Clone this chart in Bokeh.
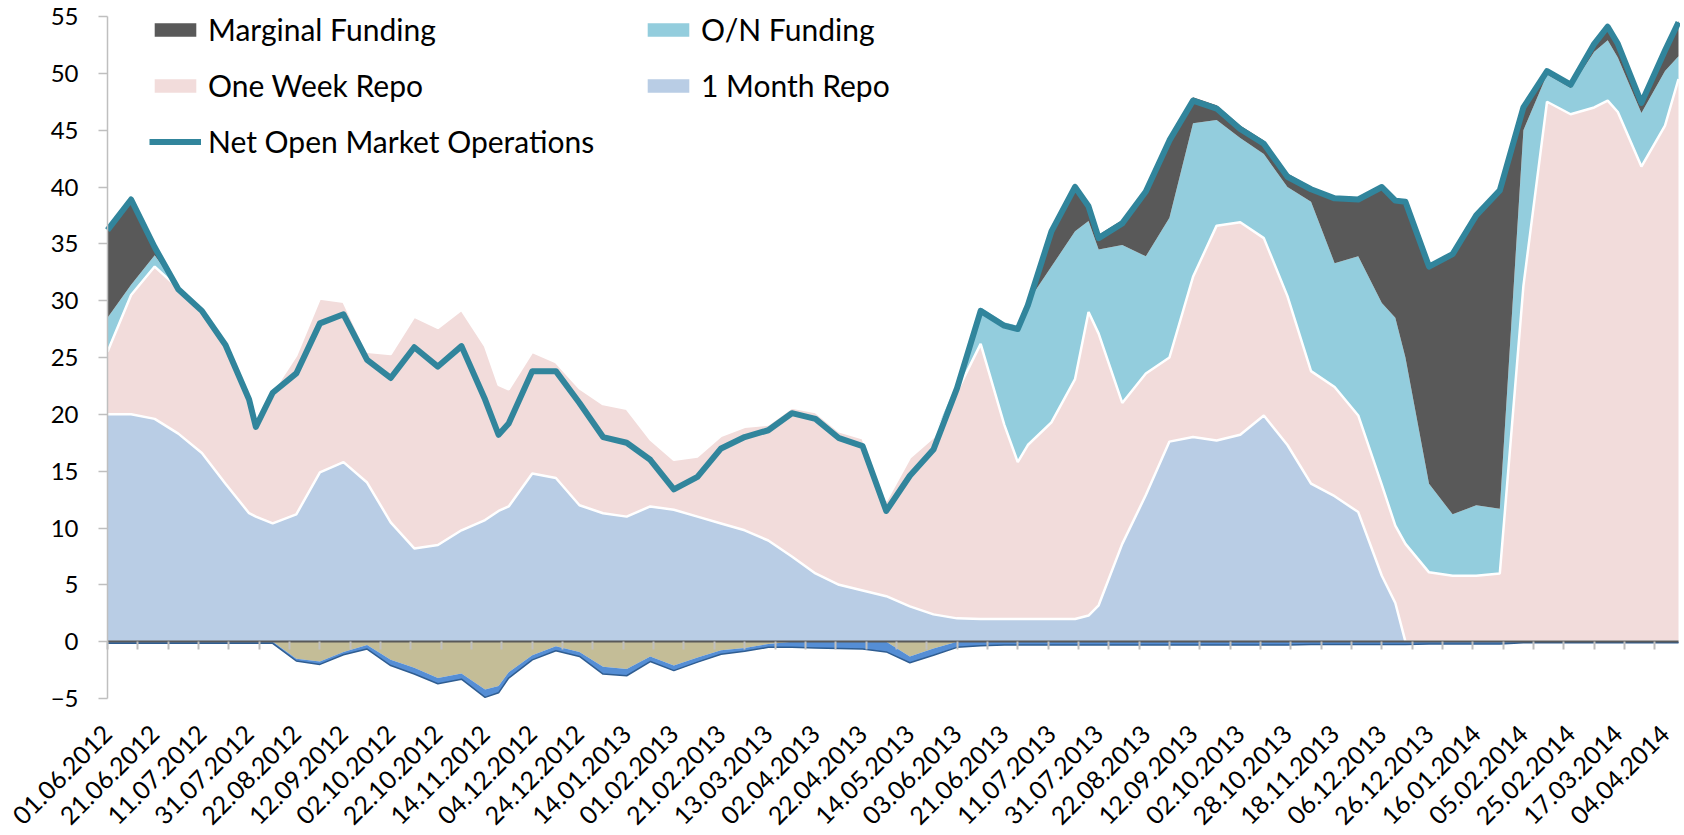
from math import pi
from bokeh.plotting import figure
from bokeh.models import (ColumnDataSource, Range1d, FixedTicker, LinearAxis,
                          Legend, LegendItem)
from bokeh.transform import stack
from bokeh.embed import file_html
from bokeh.resources import INLINE

# ---------------- data (bn TRY) ----------------
tick_dates = ["01.06.2012", "21.06.2012", "11.07.2012", "31.07.2012", "22.08.2012",
              "12.09.2012", "02.10.2012", "22.10.2012", "14.11.2012", "04.12.2012",
              "24.12.2012", "14.01.2013", "01.02.2013", "21.02.2013", "13.03.2013",
              "02.04.2013", "22.04.2013", "14.05.2013", "03.06.2013", "21.06.2013",
              "11.07.2013", "31.07.2013", "22.08.2013", "12.09.2013", "02.10.2013",
              "28.10.2013", "18.11.2013", "06.12.2013", "26.12.2013", "16.01.2014",
              "05.02.2014", "25.02.2014", "17.03.2014", "04.04.2014"]
LABEL_EVERY = 14      # business days between two date labels
TICK_EVERY = 9        # business days between two tick marks
LAST_DAY = 466

# business-day index of each sample
day_index = [0, 7, 14, 21, 28, 35, 42, 44, 49,
             56, 63, 70, 77, 84, 91, 98, 105, 112, 116, 119,
             126, 133, 140, 147, 154, 161, 168, 175, 182, 189, 196,
             203, 210, 217, 224, 231, 238, 245, 252, 259, 266, 270,
             273, 280, 287, 291, 294, 301, 308, 315, 322, 329, 336,
             343, 350, 357, 364, 371, 378, 382, 385, 392, 399, 406,
             413, 420, 427, 434, 441, 445, 448, 455, 462, 466]

one_month_repo = [20.0, 20.0, 19.6, 18.3, 16.6, 13.9, 11.3, 11.0, 10.4,
                  11.2, 14.9, 15.8, 14.0, 10.5, 8.2, 8.5, 9.8, 10.7, 11.5, 11.9,
                  14.8, 14.4, 12.0, 11.3, 11.0, 11.9, 11.6, 11.0, 10.4, 9.8, 8.9,
                  7.5, 6.0, 5.0, 4.5, 4.0, 3.1, 2.4, 2.05, 2.0, 2.0, 2.0,
                  2.0, 2.0, 2.0, 2.3, 3.2, 8.6, 12.9, 17.6, 18.0, 17.7, 18.2,
                  19.9, 17.3, 13.9, 12.8, 11.4, 5.8, 3.4, 0, 0, 0, 0,
                  0, 0, 0, 0, 0, 0, 0, 0, 0, 0]

one_week_repo = [5.5, 10.5, 13.4, 12.8, 12.6, 12.3, 10.1, 8.0, 11.6,
                 14.0, 15.3, 14.1, 11.5, 14.8, 20.4, 19.1, 19.4, 15.3, 11.1, 10.3,
                 10.7, 10.2, 10.3, 9.6, 9.5, 5.9, 4.4, 5.3, 7.7, 9.1, 10.2,
                 13.1, 14.2, 13.5, 13.4, 8.4, 13.1, 15.6, 19.95, 24.2, 17.1, 13.8,
                 15.3, 17.3, 21.1, 26.7, 23.9, 12.4, 10.7, 7.4, 14.1, 18.9, 18.7,
                 15.6, 13.1, 9.9, 9.6, 8.5, 8.0, 6.8, 8.6, 6.1, 5.8, 5.8,
                 6.0, 31.3, 47.5, 46.4, 47.0, 47.6, 46.6, 41.8, 45.4, 49.5]

on_funding = [3.0, 0.9, 1.0, 0, 0, 0, 0, 0, 0,
              0, 0, 0, 0, 0, 0, 0, 0, 0, 0, 0,
              0, 0, 0, 0, 0, 0, 0, 0, 0, 0, 0,
              0, 0, 0, 0, 0, 0, 0, 0.8, 3.2, 9.0, 12.0,
              12.6, 13.7, 13.0, 8.0, 7.4, 13.9, 10.3, 12.3, 13.5, 9.3, 7.4,
              7.4, 9.6, 14.9, 10.9, 14.0, 16.0, 18.3, 16.4, 7.8, 5.4, 6.2,
              5.7, 13.7, 2.4, 2.3, 4.9, 5.3, 4.8, 4.7, 4.8, 2.0]

marginal_funding = [7.8, 7.6, 0.8, 0, 0, 0, 0, 0, 0,
                    0, 0, 0, 0, 0, 0, 0, 0, 0, 0, 0,
                    0, 0, 0, 0, 0, 0, 0, 0, 0, 0, 0,
                    0, 0, 0, 0, 0, 0, 0, 0, 0, 0, 0,
                    0, 3.4, 4.2, 1.6, 1.3, 2.2, 6.0, 7.1, 2.3, 1.3, 1.1,
                    1.2, 1.2, 1.3, 5.9, 5.2, 10.4, 10.5, 13.9, 19.3, 23.1, 25.7,
                    28.2, 2.1, 0.4, 0.4, 0.8, 1.3, 1.3, 1.0, 1.9, 3.1]

neg_tan = [0, 0, 0, 0, 0, 0, 0, 0, 0,
           -1.5, -1.75, -0.9, -0.3, -1.6, -2.3, -3.2, -2.8, -4.2, -3.9, -2.7,
           -1.2, -0.4, -0.9, -2.2, -2.4, -1.3, -2.1, -1.4, -0.75, -0.55, -0.2,
           0, 0, 0, 0, 0, -1.3, -0.6, 0, 0, 0, 0,
           0, 0, 0, 0, 0, 0, 0, 0, 0, 0, 0,
           0, 0, 0, 0, 0, 0, 0, 0, 0, 0, 0,
           0, 0, 0, 0, 0, 0, 0, 0, 0, 0]

neg_blue = [-0.15, -0.15, -0.15, -0.15, -0.15, -0.15, -0.15, -0.15, -0.15,
            -0.2, -0.25, -0.25, -0.35, -0.5, -0.55, -0.5, -0.5, -0.7, -0.6, -0.5,
            -0.4, -0.4, -0.4, -0.65, -0.6, -0.45, -0.45, -0.4, -0.35, -0.3, -0.3,
            -0.5, -0.55, -0.6, -0.65, -0.9, -0.55, -0.6, -0.5, -0.35, -0.3, -0.3,
            -0.3, -0.3, -0.3, -0.3, -0.3, -0.3, -0.3, -0.3, -0.3, -0.3, -0.3,
            -0.3, -0.3, -0.25, -0.25, -0.25, -0.25, -0.25, -0.25, -0.2, -0.2, -0.2,
            -0.2, -0.1, -0.1, -0.1, -0.1, -0.1, -0.1, -0.1, -0.1, -0.1]

net_omo = [36.2, 38.9, 34.7, 31.0, 29.1, 26.1, 21.3, 18.9, 21.9,
           23.6, 28.0, 28.8, 24.8, 23.2, 25.9, 24.2, 26.0, 21.3, 18.2, 19.2,
           23.8, 23.8, 21.0, 18.0, 17.5, 16.0, 13.4, 14.5, 17.0, 18.0, 18.6,
           20.1, 19.6, 17.9, 17.2, 11.5, 14.6, 16.9, 22.3, 29.1, 27.8, 27.5,
           29.6, 36.1, 40.0, 38.3, 35.5, 36.8, 39.6, 44.1, 47.6, 46.9, 45.1,
           43.8, 40.9, 39.8, 39.0, 38.9, 40.0, 38.8, 38.7, 33.0, 34.1, 37.5,
           39.7, 47.0, 50.2, 49.0, 52.6, 54.1, 52.6, 47.4, 52.0, 54.5]

# ---------------- styling / layout ----------------
C_1M, C_1W, C_ON, C_MF = "#B9CDE5", "#F2DCDB", "#93CDDD", "#595959"
C_TAN, C_BLUE, C_BLUE_EDGE = "#C4BD97", "#558ED5", "#2F5D91"
C_NET = "#31859C"
FONT = "Lato"
Y_MIN, Y_MAX = -5, 55

# The frame fills the whole canvas; axes are pinned inside it so that the
# rotated date labels and the value labels are never clipped.
FIG_W, FIG_H = 1680, 834
AX_LEFT, AX_RIGHT = 107, 1678       # pixel span of day 0 .. LAST_DAY
AX_TOP, AX_BOTTOM = 16, 698         # pixel span of Y_MAX .. Y_MIN
px_per_day = (AX_RIGHT - AX_LEFT) / LAST_DAY
px_per_unit = (AX_BOTTOM - AX_TOP) / (Y_MAX - Y_MIN)
x_rng = Range1d(-AX_LEFT / px_per_day, LAST_DAY + (FIG_W - AX_RIGHT) / px_per_day)
y_rng = Range1d(Y_MIN - (FIG_H - AX_BOTTOM) / px_per_unit, Y_MAX + AX_TOP / px_per_unit)

src = ColumnDataSource(dict(day=day_index, m1=one_month_repo, w1=one_week_repo,
                            on=on_funding, mf=marginal_funding,
                            tan=neg_tan, blue=neg_blue, net=net_omo))

p = figure(width=FIG_W, height=FIG_H, x_range=x_rng, y_range=y_rng,
           x_axis_location=None, y_axis_location=None,
           output_backend="svg", toolbar_location=None, min_border=0)
p.outline_line_color = None
p.xgrid.visible = False
p.ygrid.visible = False

pos = p.varea_stack(stackers=["m1", "w1", "on", "mf"], x="day",
                    color=[C_1M, C_1W, C_ON, C_MF], source=src)
p.line(x="day", y=stack("m1"), line_color="white", line_width=2.5, source=src)
p.line(x="day", y=stack("m1", "w1"), line_color="white", line_width=2.5, source=src)

neg = p.varea_stack(stackers=["tan", "blue"], x="day", color=[C_TAN, C_BLUE], source=src)
p.line(x="day", y=stack("tan", "blue"), line_color=C_BLUE_EDGE, line_width=1.5, source=src)

net_r = p.line(x="day", y="net", line_color=C_NET, line_width=6, line_join="round",
               source=src)

# value axis at day 0, drawn over -5..55 only
y_axis = LinearAxis(fixed_location=0, bounds=(Y_MIN, Y_MAX),
                    ticker=FixedTicker(ticks=list(range(Y_MIN, Y_MAX + 1, 5))),
                    axis_line_color="#BFBFBF", axis_line_width=1.5,
                    major_tick_line_color="#BFBFBF", major_tick_line_width=1.5,
                    major_tick_in=0, major_tick_out=9, minor_tick_line_color=None,
                    major_label_text_font=FONT, major_label_text_font_size="24px",
                    major_label_text_color="black", major_label_standoff=20)
p.add_layout(y_axis, "left")

# date labels, hung below the bottom of the value axis
label_pos = [LABEL_EVERY * k for k in range(len(tick_dates))]
date_axis = LinearAxis(fixed_location=Y_MIN, ticker=FixedTicker(ticks=label_pos),
                       major_label_overrides={lp: d for lp, d in zip(label_pos, tick_dates)},
                       major_label_orientation=pi / 4,
                       axis_line_color=None, major_tick_line_color=None,
                       minor_tick_line_color=None, major_tick_out=0, major_tick_in=0,
                       major_label_standoff=31, major_label_text_font=FONT,
                       major_label_text_font_size="25px", major_label_text_color="black")
p.add_layout(date_axis, "below")

# category axis line at zero with its tick marks (no labels)
zero_axis = LinearAxis(fixed_location=0, bounds=(0, LAST_DAY),
                       ticker=FixedTicker(ticks=list(range(0, LAST_DAY + 1, TICK_EVERY))),
                       axis_line_color="#595959", axis_line_width=2,
                       major_tick_line_color="#BFBFBF", major_tick_line_width=2,
                       major_tick_in=0, major_tick_out=8,
                       minor_tick_line_color=None, major_label_text_color=None)
p.add_layout(zero_axis, "below")

# legend in two columns (positions are offsets from the frame's bottom-left)
common = dict(glyph_width=52, glyph_height=17, label_standoff=7, spacing=16,
              padding=0, margin=0, border_line_color=None, background_fill_alpha=0,
              label_text_font=FONT, label_text_font_size="30px",
              label_text_color="black", label_height=40)
LEG_TOP = 9
leg1 = Legend(items=[LegendItem(label="Marginal Funding", renderers=[pos[3]]),
                     LegendItem(label="One Week Repo", renderers=[pos[1]]),
                     LegendItem(label="Net Open Market Operations", renderers=[net_r])],
              location=(AX_LEFT + 42, FIG_H - LEG_TOP - (3 * 40 + 2 * 16)), **common)
leg2 = Legend(items=[LegendItem(label="O/N Funding", renderers=[pos[2]]),
                     LegendItem(label="1 Month Repo", renderers=[pos[0]])],
              location=(AX_LEFT + 535, FIG_H - LEG_TOP - (2 * 40 + 16)), **common)
p.add_layout(leg1)
p.add_layout(leg2)

open("out.html", "w").write(file_html(p, INLINE))
